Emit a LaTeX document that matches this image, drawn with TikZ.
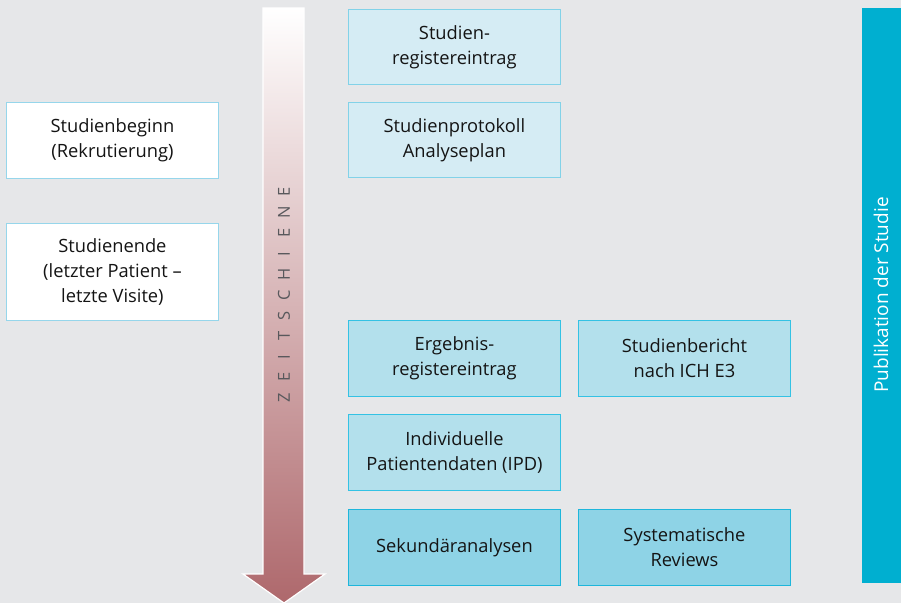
\documentclass[tikz,border=0pt]{standalone}
\usepackage{fontspec}
\setmainfont{Open Sans}
\definecolor{bg}{RGB}{230,231,233}
\definecolor{arrowred}{RGB}{174,104,108}
\definecolor{lightfill}{RGB}{213,236,244}
\definecolor{lightdraw}{RGB}{130,210,232}
\definecolor{midfill}{RGB}{179,224,236}
\definecolor{middraw}{RGB}{52,194,228}
\definecolor{darkfill}{RGB}{142,211,230}
\definecolor{darkdraw}{RGB}{30,182,219}
\definecolor{whitedraw}{RGB}{150,214,235}
\definecolor{barcol}{RGB}{0,175,208}
\definecolor{txt}{RGB}{20,20,20}
\definecolor{railtxt}{RGB}{88,88,92}
\tikzset{
  box/.style={anchor=north west, minimum width=212pt, minimum height=76pt, inner sep=0pt,
    align=center, line width=0.9pt, text=txt, font=\fontsize{18.3}{25}\selectfont},
  lightbox/.style={box, fill=lightfill, draw=lightdraw},
  midbox/.style={box, fill=midfill, draw=middraw},
  darkbox/.style={box, fill=darkfill, draw=darkdraw},
  whitebox/.style={box, fill=white, draw=whitedraw},
}
\begin{document}
\begin{tikzpicture}[x=1pt,y=-1pt]
\fill[bg] (0,0) rectangle (901,603);
\useasboundingbox (0,0) rectangle (901,603);
% time arrow
\shadedraw[top color=white, bottom color=arrowred, draw=white, line width=1.2pt]
  (263,8) -- (304,8) -- (304,574) -- (325,574) -- (284,603) -- (243,574) -- (263,574) -- cycle;
\node[rotate=90, text=railtxt, font=\fontsize{16.5}{18}\selectfont, inner sep=0pt] (rail) at (284,295)
  {\makebox[20.6pt]{Z}\makebox[20.6pt]{E}\makebox[20.6pt]{I}\makebox[20.6pt]{T}\makebox[20.6pt]{S}\makebox[20.6pt]{C}\makebox[20.6pt]{H}\makebox[20.6pt]{I}\makebox[20.6pt]{E}\makebox[20.6pt]{N}\makebox[20.6pt]{E}};
% left boxes
\node[whitebox] (beginn) at (6,102) {Studienbeginn\\(Rekrutierung)};
\node[whitebox, minimum height=97pt] (ende) at (6,223) {Studienende\\(letzter Patient --\\letzte Visite)};
% middle column
\node[lightbox, minimum height=75pt] (reg) at (348,9) {Studien-\\registereintrag};
\node[lightbox, minimum height=75pt] (prot) at (348,102) {Studienprotokoll\\Analyseplan};
\node[midbox] (erg) at (348,320) {Ergebnis-\\registereintrag};
\node[midbox] (ber) at (578,320) {Studienbericht\\nach ICH E3};
\node[midbox] (ipd) at (348,414) {Individuelle\\Patientendaten (IPD)};
\node[darkbox] (sek) at (348,509) {Sekundäranalysen};
\node[darkbox] (rev) at (578,509) {Systematische\\Reviews};
% publication bar
\fill[barcol] (862,8) rectangle (901,583);
\node[rotate=90, text=white, font=\fontsize{19}{21}\selectfont] (pub) at (881,295) {Publikation der Studie};
\end{tikzpicture}
\end{document}
